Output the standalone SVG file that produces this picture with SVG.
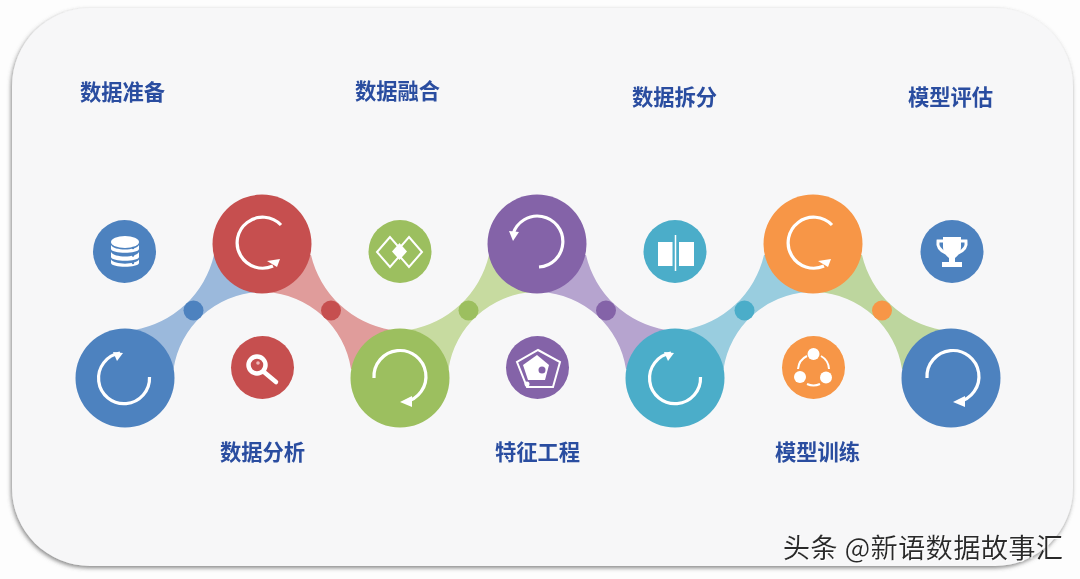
<svg xmlns="http://www.w3.org/2000/svg" width="1080" height="579" viewBox="0 0 1080 579">
<style>
.lbl{font-family:"Noto Sans CJK SC","Liberation Sans",sans-serif;font-weight:700;font-size:21.3px;fill:#2b4ea0;text-anchor:middle}
.wm{font-family:"Noto Sans CJK SC","Liberation Sans",sans-serif;font-size:27px;fill:#2a2a2a}
.arc{fill:none;stroke:#fff;stroke-width:3.2}
.head{fill:#fff}
.ln{fill:none;stroke:#fff;stroke-width:2}
.w{fill:#fff}
.soft{filter:url(#soft)}
</style>
<defs>
<filter id="soft" x="-5%" y="-5%" width="110%" height="110%"><feGaussianBlur stdDeviation=".45"/></filter>
<filter id="sh" x="-3%" y="-3%" width="106%" height="106%"><feDropShadow dx="-1" dy="2" stdDeviation="2" flood-color="#555" flood-opacity=".7"/></filter>
<filter id="wmf" x="-5%" y="-20%" width="110%" height="140%"><feDropShadow dx="1" dy="1" stdDeviation=".3" flood-color="#fff" flood-opacity="1"/></filter>
<path id="bandUp" d="M0,0L9,-48A99,99 0 0 0 89,-123L137,-134L133,-86A91,91 0 0 0 48.500,-9Z"/>
<path id="bandDown" d="M138,134L129,86A99,99 0 0 1 49,11L0,0L4,48A91,91 0 0 1 89,125Z"/>
<g id="spinA"><path class="arc" d="M19,-18 A25.500,25.500 0 1 0 11,23"/><path class="head" d="M18,16 L5,18 L15,24Z"/></g>
<g id="spinB"><path class="arc" d="M25.500,-1 A25.500,25.500 0 1 1 -4,-25"/><path class="head" d="M-1,-25 L-11,-26 L-7,-17Z"/></g>
<g id="spinC"><path class="arc" d="M-26,0 A26,26 0 1 1 5,24"/><path class="head" d="M0,24 L12,18 L12,29Z"/></g>
<g id="spinD"><path class="arc" d="M2,24 A25.500,25.500 0 1 0 -24,-9"/><path class="head" d="M-28,-12 L-18,-11 L-24,-2Z"/></g>
</defs>
<rect width="1080" height="579" fill="#fdfdfd"/>
<rect x="12" y="8" width="1061" height="558" rx="78" ry="78" fill="#f7f7f8" filter="url(#sh)"/>
<g id="connectors" class="soft">
<use href="#bandUp" x="125" y="378" fill="#9bb9dc"/>
<use href="#bandDown" x="262" y="244" fill="#e09c9b"/>
<use href="#bandUp" x="400" y="378" fill="#c7dba0"/>
<use href="#bandDown" x="537" y="244" fill="#b6a4cf"/>
<use href="#bandUp" x="675" y="378" fill="#99cddf"/>
<use href="#bandDown" x="813" y="244" fill="#bdd69e"/>
<circle cx="193.500" cy="310.500" r="10" fill="#4e82bf"/>
<circle cx="331" cy="310.500" r="10" fill="#c6504f"/>
<circle cx="468.500" cy="310.500" r="10" fill="#9cbf5e"/>
<circle cx="606" cy="310.500" r="10" fill="#8463a8"/>
<circle cx="744.500" cy="310.500" r="10" fill="#4cadc9"/>
<circle cx="882" cy="310.500" r="10" fill="#f79646"/>
</g>
<g id="step1" class="soft"><circle cx="125" cy="378" r="49.500" fill="#4e82bf"/><use href="#spinB" x="124" y="378"/></g>
<g id="step2" class="soft"><circle cx="262" cy="244" r="49.500" fill="#c6504f"/><use href="#spinA" x="262" y="243"/></g>
<g id="step3" class="soft"><circle cx="400" cy="378" r="49.500" fill="#9cbf5e"/><use href="#spinC" x="400" y="378"/></g>
<g id="step4" class="soft"><circle cx="537" cy="244" r="49.500" fill="#8463a8"/><use href="#spinD" x="537" y="243"/></g>
<g id="step5" class="soft"><circle cx="675" cy="378" r="49.500" fill="#4cadc9"/><use href="#spinB" x="675" y="378"/></g>
<g id="step6" class="soft"><circle cx="813" cy="244" r="49.500" fill="#f79646"/><use href="#spinA" x="813" y="243"/></g>
<g id="step7" class="soft"><circle cx="951" cy="378" r="49.500" fill="#4e82bf"/><use href="#spinC" x="953" y="378"/></g>
<g id="icon-data" class="soft"><circle cx="124.500" cy="251.500" r="31.500" fill="#4e82bf"/>
<ellipse class="w" cx="125" cy="242" rx="14" ry="6"/>
<path class="w" d="M111,245V249C112,254 138,254 139,249V245C136,251 114,251 111,245Z"/>
<path class="w" d="M111,252V257C112,262 138,262 139,257V252C136,258 114,258 111,252Z"/>
<path class="w" d="M111,259.500V263C112,268 138,268 139,263V259.500C136,265 114,265 111,259.500Z"/>
<g fill="#4e82bf"><circle cx="133" cy="248" r="1.200"/><circle cx="133" cy="255.500" r="1.200"/><circle cx="133" cy="263" r="1.200"/></g></g>
<g id="icon-analysis" class="soft"><circle cx="262.500" cy="367.500" r="31.500" fill="#c6504f"/>
<circle cx="257" cy="365" r="8.500" fill="none" stroke="#fff" stroke-width="4.500"/>
<path d="M264,372L276,382" stroke="#fff" stroke-width="4.500" stroke-linecap="round"/>
<circle cx="258" cy="363" r="1.800" fill="#eeb8b8"/></g>
<g id="icon-merge" class="soft"><circle cx="400" cy="251.500" r="31.500" fill="#9cbf5e"/>
<path class="ln" d="M390,237L377,252L390,267L403,252Z"/>
<path class="ln" d="M409,237L422,252L409,267L396,252Z"/>
<path class="w" d="M399.500,243L407,251.500L399.500,260L392,251.500Z"/></g>
<g id="icon-feature" class="soft"><circle cx="537.500" cy="367.500" r="31.500" fill="#8463a8"/>
<path class="ln" d="M538,350L560,362L553,387L527,387L517,362Z"/>
<path class="w" d="M537,355L549,365L545,380L528,380L523,365Z"/>
<circle cx="542" cy="370" r="3.500" fill="#8463a8"/>
<circle cx="527" cy="384" r="2.500" fill="#fff"/></g>
<g id="icon-split" class="soft"><circle cx="675" cy="251.500" r="31.500" fill="#4cadc9"/>
<rect class="w" x="658" y="242" width="14.500" height="24"/>
<rect class="w" x="679" y="242" width="15" height="24"/>
<path d="M675.500,235V271" stroke="#fff" stroke-width="1.500"/></g>
<g id="icon-train" class="soft"><circle cx="813.500" cy="367.500" r="31.500" fill="#f79646"/>
<circle class="w" cx="813.500" cy="354" r="6"/><circle class="w" cx="800" cy="377" r="6"/><circle class="w" cx="826" cy="377.500" r="6"/>
<path class="ln" d="M807,356A16,16 0 0 0 798,369M821,356A16,16 0 0 1 829,369M807,384A16,16 0 0 0 820,384"/></g>
<g id="icon-eval" class="soft"><circle cx="952" cy="251.500" r="31.500" fill="#4e82bf"/>
<path class="w" d="M943,237H961V247C961,254 956,257 955,258V262H962V267H942V262H949V258C948,257 943,254 943,247Z"/>
<path fill="none" stroke="#fff" stroke-width="3" d="M943,241H938C937,247 941,251 946,253M961,241H966C967,247 963,251 958,253"/></g>
<g id="labels" class="soft">
<text class="lbl" x="122.500" y="100">数据准备</text>
<text class="lbl" x="397.500" y="99">数据融合</text>
<text class="lbl" x="674.500" y="105">数据拆分</text>
<text class="lbl" x="950.500" y="105">模型评估</text>
<text class="lbl" x="262.500" y="460">数据分析</text>
<text class="lbl" x="537.500" y="460">特征工程</text>
<text class="lbl" x="817.500" y="460">模型训练</text>
</g>
<text class="wm" x="783" y="558" textLength="280" filter="url(#wmf)">头条 @新语数据故事汇</text>
</svg>
